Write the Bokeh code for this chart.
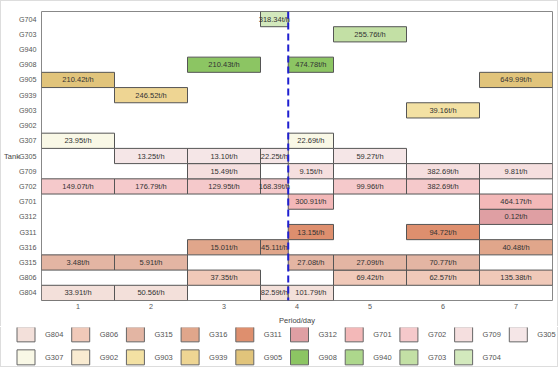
from bokeh.plotting import figure
from bokeh.models import ColumnDataSource, FactorRange, Span, FixedTicker, Range1d
from bokeh.core.properties import value
from bokeh.embed import file_html
from bokeh.resources import INLINE

# ---- data ----
tanks = ["G804", "G806", "G315", "G316", "G311", "G312", "G701", "G702", "G709", "G305",
         "G307", "G902", "G903", "G939", "G905", "G908", "G940", "G703", "G704"]
tank_colors = ["#f3e0da", "#f0c9b9", "#e3b5a3", "#e0a68b", "#de8f6e", "#df9fa3", "#f3b8b8",
               "#f5c9cb", "#f5dfdf", "#f5e6e7", "#f9f8e6", "#f9ebd1", "#f3e1a3", "#eed593",
               "#e1c47b", "#8cc563", "#add78c", "#c3e0a5", "#d3e9bd"]

days = [1, 2, 3, 4, 5, 6, 7]
current_time = 3.88  # day position of "now"

bar_tank = ["G905", "G307", "G702", "G315", "G804",
            "G939", "G305", "G702", "G315", "G804",
            "G908", "G305", "G709", "G702", "G316", "G806",
            "G704", "G305", "G702", "G316", "G804",
            "G908", "G307", "G709", "G701", "G311", "G315", "G804",
            "G703", "G305", "G702", "G315", "G806",
            "G903", "G709", "G702", "G311", "G315", "G806",
            "G905", "G709", "G701", "G312", "G316", "G806"]
bar_start = [0.5] * 5 + [1.5] * 5 + [2.5] * 6 + [3.5] * 5 + [3.88] * 7 + [4.5] * 5 + [5.5] * 6 + [6.5] * 6
bar_end = [1.5] * 5 + [2.5] * 5 + [3.5] * 6 + [3.88] * 5 + [4.5] * 7 + [5.5] * 5 + [6.5] * 6 + [7.5] * 6
bar_rate = [210.42, 23.95, 149.07, 3.48, 33.91,
            246.52, 13.25, 176.79, 5.91, 50.56,
            210.43, 13.10, 15.49, 129.95, 15.01, 37.35,
            318.34, 22.25, 168.39, 45.11, 82.59,
            474.78, 22.69, 9.15, 300.91, 13.15, 27.08, 101.79,
            255.76, 59.27, 99.96, 27.09, 69.42,
            39.16, 382.69, 382.69, 94.72, 70.77, 62.57,
            649.99, 9.81, 464.17, 0.12, 40.48, 135.38]

legend_cols = 10

FONT = "Liberation Sans"

# ---- main chart ----
p = figure(width=558, height=326, output_backend="svg", toolbar_location=None,
           x_range=(0.5, 7.5), y_range=FactorRange(factors=tanks),
           min_border_left=40, min_border_right=7, min_border_top=10, min_border_bottom=27,
           background_fill_color="white", border_fill_color="white",
           outline_line_color="#888888", outline_line_width=1,
           styles={"position": "absolute", "left": "0px", "top": "0px",
                   "border": "1px solid #dddddd", "border-bottom": "none"})
p.xgrid.visible = False
p.ygrid.visible = False

for tank, col in zip(tanks, tank_colors):
    idx = [i for i, t in enumerate(bar_tank) if t == tank]
    src = ColumnDataSource(dict(
        y=[bar_tank[i] for i in idx],
        left=[bar_start[i] for i in idx],
        right=[bar_end[i] for i in idx],
        xc=[(bar_start[i] + bar_end[i]) / 2 for i in idx],
        label=["%.2ft/h" % bar_rate[i] for i in idx],
    ))
    p.hbar(y="y", left="left", right="right", height=1.0, source=src,
           fill_color=col, line_color="#555555", line_width=1)
    p.text(x="xc", y="y", text="label", source=src, text_align="center",
           text_baseline="middle", text_font=value(FONT), text_font_size="7.5px",
           text_color="#333333")

# current-time marker
p.add_layout(Span(location=current_time, dimension="height", line_color="#1f1fd0",
                  line_width=2, line_dash="7 4"))

# axes
p.xaxis.ticker = FixedTicker(ticks=days)
p.xaxis.axis_label = "Period/day"
p.yaxis.axis_label = "Tank"
for ax in (p.xaxis[0], p.yaxis[0]):
    ax.axis_line_color = None
    ax.major_tick_line_color = None
    ax.minor_tick_line_color = None
    ax.major_tick_out = 0
    ax.major_tick_in = 0
    ax.minor_tick_out = 0
    ax.minor_tick_in = 0
    ax.major_label_text_font = FONT
    ax.major_label_text_font_size = "7.2px"
    ax.major_label_text_color = "#555555"
    ax.axis_label_text_font = FONT
    ax.axis_label_text_font_size = "7.5px"
    ax.axis_label_text_font_style = "normal"
    ax.axis_label_text_color = "#444444"
p.xaxis.major_label_standoff = 3
p.xaxis.axis_label_standoff = 4
p.yaxis.major_label_standoff = 5
p.yaxis.axis_label_standoff = -4
p.yaxis.axis_label_orientation = "horizontal"
p.yaxis.axis_label_text_baseline = "bottom"

# ---- legend strip (swatches laid out on a column/row grid) ----
lg = figure(width=558, height=40, output_backend="svg", toolbar_location=None,
            x_range=Range1d(-0.448, 9.753), y_range=Range1d(-0.441, 1.298), min_border=0,
            background_fill_color="white", border_fill_color="white",
            outline_line_color=None,
            styles={"position": "absolute", "left": "0px", "top": "327px",
                    "border": "1px solid #dddddd", "border-top": "none"})
lg.axis.visible = False
lg.grid.visible = False
leg_src = ColumnDataSource(dict(
    col=[i % legend_cols for i in range(len(tanks))],
    row=[1 - i // legend_cols for i in range(len(tanks))],
    name=tanks,
    color=tank_colors,
))
lg.rect(x="col", y="row", width=18, height=15, width_units="screen", height_units="screen",
        source=leg_src, fill_color="color", line_color="#666666", line_width=1)
lg.text(x="col", y="row", text="name", source=leg_src, x_offset=19,
        text_align="left", text_baseline="middle", text_font=value(FONT),
        text_font_size="7.5px", text_color="#555555")

open("out.html", "w").write(file_html([p, lg], INLINE))
